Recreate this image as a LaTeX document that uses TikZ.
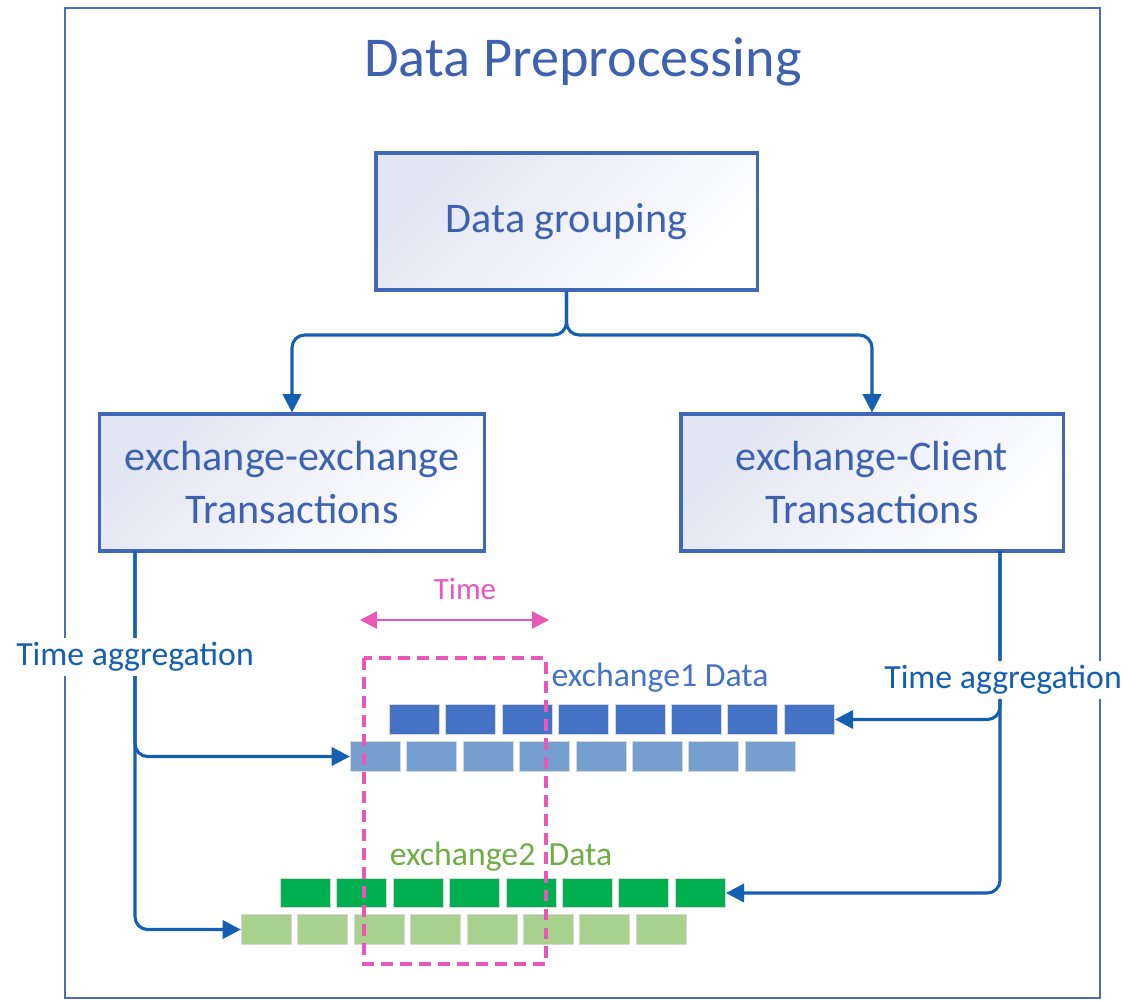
\documentclass[tikz,border=0pt]{standalone}
\usepackage{fontspec}
\setmainfont{Carlito}
\usepackage{xcolor}
\usetikzlibrary{calc,arrows.meta,positioning}
\definecolor{frameBlue}{RGB}{74,109,181}
\definecolor{boxBlue}{RGB}{64,104,180}
\definecolor{boxTint}{RGB}{226,229,243}
\definecolor{textBlue}{RGB}{62,98,176}
\definecolor{linkBlue}{RGB}{21,95,176}
\definecolor{cellDark}{RGB}{68,114,196}
\definecolor{cellLight}{RGB}{116,159,207}
\definecolor{greenDark}{RGB}{0,176,80}
\definecolor{greenLight}{RGB}{169,209,142}
\definecolor{textGreen}{RGB}{112,173,71}
\definecolor{tpink}{RGB}{235,86,185}
\definecolor{cellEdge}{RGB}{215,215,215}

\begin{document}
\begin{tikzpicture}[x=0.025cm,y=-0.025cm,
    procbox/.style={draw=boxBlue, line width=2.2pt, top color=boxTint, bottom color=white,
        shading angle=45, text=textBlue, align=center, inner sep=0pt,
        font=\fontsize{30}{37.5}\selectfont, minimum height=3.425cm},
    link/.style={draw=linkBlue, line width=2.2pt, rounded corners=9pt,
        -{Triangle[length=13pt,width=13pt]}},
    cell/.style={draw=cellEdge, line width=0.8pt, minimum width=1.25cm,
        minimum height=0.73cm, inner sep=0pt},
    agglabel/.style={fill=white, text=linkBlue, inner sep=3pt,
        font=\fontsize{24}{28}\selectfont}]

    \useasboundingbox (0,0) rectangle (1130,1000);

    % outer frame
    \draw[frameBlue, line width=1.7pt] (65,8) rectangle (1100,998);
    \node[text=textBlue, font=\fontsize{40}{48}\selectfont] (title) at (583,62) {Data Preprocessing};

    % grouping boxes
    \node[procbox, minimum width=9.525cm] (grp) at (566.5,221.5) {Data grouping};
    \node[procbox, minimum width=9.6cm] (exex) at (292,482.5) {exchange-exchange\\Transactions};
    \node[procbox, minimum width=9.55cm] (excl) at (872,482.5) {exchange-Client\\Transactions};

    \coordinate (fork) at (566.5,335);
    \draw[link] (grp.south) -- (fork) -| (exex.north);
    \draw[link] (grp.south) -- (fork) -| (excl.north);

    % data rows
    \foreach \i in {1,...,8} {
        \node[cell, fill=cellDark] (e1hi-\i) at ({414.5+56.4*(\i-1)},719.5) {};
        \node[cell, fill=cellLight] (e1lo-\i) at ({375.5+56.4*(\i-1)},756.5) {};
        \node[cell, fill=greenDark] (e2hi-\i) at ({305.5+56.4*(\i-1)},893) {};
        \node[cell, fill=greenLight] (e2lo-\i) at ({266.5+56.4*(\i-1)},929.5) {};
    }
    \node[text=cellDark, font=\fontsize{24}{28}\selectfont] (e1name) at (660,678) {exchange1 Data};
    \node[text=textGreen, font=\fontsize{24}{28}\selectfont] (e2name) at (501,857) {exchange2\, Data};

    % time aggregation
    \coordinate (lfoot) at (135,551);
    \coordinate (rfoot) at (1000,551);
    \draw[link] (lfoot) |- (e1lo-1.west);
    \draw[link] (lfoot) |- (e2lo-1.west);
    \draw[link] (rfoot) |- (e1hi-8.east);
    \draw[link] (rfoot) |- (e2hi-8.east);
    \node[agglabel] (aggl) at (135,657) {Time aggregation};
    \node[agglabel] (aggr) at (1003,680) {Time aggregation};

    % time window
    \draw[tpink, line width=3.2pt, dash pattern=on 8.5pt off 5pt] (364,658) rectangle (546,964);
    \coordinate (tl) at (360,620);
    \coordinate (tr) at (549,620);
    \draw[tpink, line width=1.6pt, {Triangle[length=12pt,width=12pt]}-{Triangle[length=12pt,width=12pt]}] (tl) -- (tr);
    \node[text=tpink, font=\fontsize{22}{26}\selectfont] (tlabel) at (465,589) {Time};

\end{tikzpicture}
\end{document}
